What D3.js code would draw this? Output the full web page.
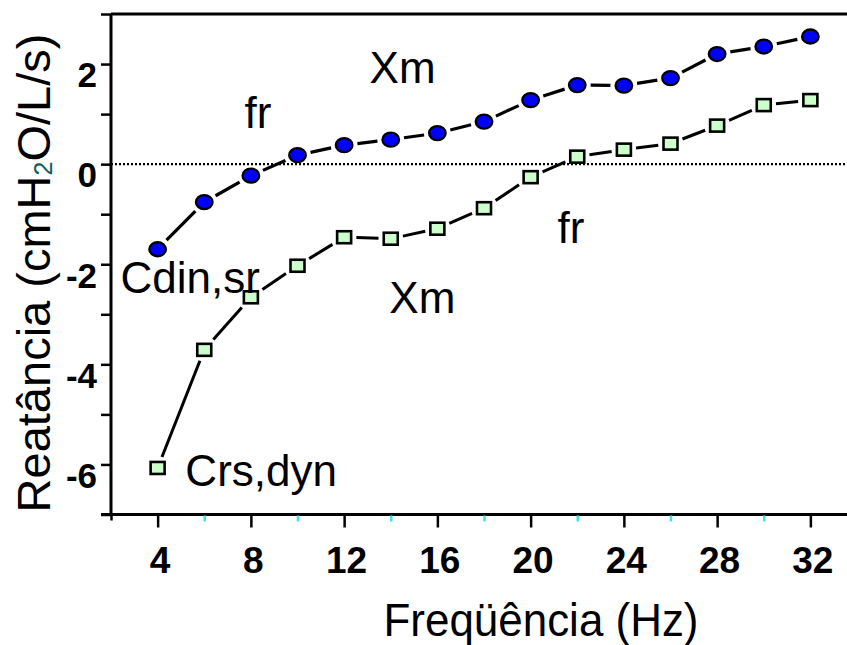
<!DOCTYPE html>
<html>
<head>
<meta charset="utf-8">
<script src="https://cdn.jsdelivr.net/npm/d3@7"></script>
<style>
  html, body { margin: 0; padding: 0; background: #fff; }
  svg { display: block; }
  text { font-family: "Liberation Sans", Arial, sans-serif; }
</style>
</head>
<body>
<svg id="chart" width="847" height="645"></svg>
<script>
// ---- data ----
const frequencies = [4, 6, 8, 10, 12, 14, 16, 18, 20, 22, 24, 26, 28, 30, 32];
const cdinSr = [-1.70, -0.76, -0.23, 0.18, 0.38, 0.49, 0.62, 0.85, 1.28, 1.58, 1.57, 1.72, 2.20, 2.35, 2.55];
const crsDyn = [-6.07, -3.71, -2.66, -2.03, -1.46, -1.49, -1.29, -0.88, -0.26, 0.15, 0.29, 0.41, 0.77, 1.18, 1.28];
const yTickValues = [-7, -6, -5, -4, -3, -2, -1, 0, 1, 2, 3];
const yLabelValues = [-6, -4, -2, 0, 2];
const xMajorTicks = [4, 8, 12, 16, 20, 24, 28, 32];
const xMinorTicks = [6, 10, 14, 18, 22, 26, 30];
const annotationText = ["Xm", "fr", "Cdin,sr", "Xm", "fr", "Crs,dyn"];
const annotationFreq = [13.09, 7.73, 2.41, 13.94, 21.15, 5.19];
const annotationReact = [1.63, 0.72, -2.57, -2.98, -1.58, -6.44];
const xTitle = "Freqüência (Hz)";

// ---- layout ----
const svg = d3.select("#chart");
const x = d3.scaleLinear().domain([2, 34]).range([111, 857]);
const y = d3.scaleLinear().domain([-7, 3]).range([514.5, 14]);
const rightEdge = 847;

// zero dotted line
svg.append("line")
  .attr("x1", x(2)).attr("x2", rightEdge)
  .attr("y1", y(0)).attr("y2", y(0))
  .attr("stroke", "#000").attr("stroke-width", 2.2)
  .attr("stroke-dasharray", "2,2");

// top border
svg.append("line")
  .attr("x1", x(2)).attr("x2", rightEdge)
  .attr("y1", y(3)).attr("y2", y(3))
  .attr("stroke", "#000").attr("stroke-width", 3);

// y axis
const yAxis = d3.axisLeft(y)
  .tickValues(yTickValues)
  .tickSize(10)
  .tickPadding(4)
  .tickFormat(d => yLabelValues.includes(d) ? d3.format("d")(d).replace("−", "-") : "");
const gy = svg.append("g").attr("transform", `translate(${x(2)},0)`).call(yAxis);
gy.select(".domain").attr("stroke-width", 3).attr("d", `M0,${y(3)}V${y(-7)}`);
gy.selectAll(".tick line").attr("stroke-width", 2.5);
gy.selectAll(".tick text")
  .attr("font-size", 35).attr("font-weight", "bold")
  .attr("font-family", "'Liberation Sans', Arial, sans-serif")
  .attr("dy", "0.65em").attr("fill", "#000");

// x axis line
svg.append("line")
  .attr("x1", x(2) - 10).attr("x2", rightEdge)
  .attr("y1", y(-7)).attr("y2", y(-7))
  .attr("stroke", "#000").attr("stroke-width", 3);

// x major ticks + labels
const xAxis = d3.axisBottom(x)
  .tickValues(xMajorTicks)
  .tickSize(13)
  .tickPadding(19)
  .tickFormat(d3.format("d"));
const gx = svg.append("g").attr("transform", `translate(0,${y(-7)})`).call(xAxis);
gx.select(".domain").remove();
gx.selectAll(".tick line").attr("stroke-width", 2.5);
gx.selectAll(".tick text")
  .attr("font-size", 37).attr("font-weight", "bold")
  .attr("font-family", "'Liberation Sans', Arial, sans-serif")
  .attr("dx", 2).attr("fill", "#000");

// x minor ticks (cyan)
const xMinorAxis = d3.axisBottom(x).tickValues(xMinorTicks).tickSize(6).tickFormat("");
const gxm = svg.append("g").attr("transform", `translate(0,${y(-7) + 1})`).call(xMinorAxis);
gxm.select(".domain").remove();
gxm.selectAll(".tick line").attr("stroke", "#3fe3f0").attr("stroke-width", 2.5);

// start tick at 2
const gx0 = svg.append("g").attr("transform", `translate(0,${y(-7)})`)
  .call(d3.axisBottom(x).tickValues([2]).tickSize(6).tickFormat(""));
gx0.select(".domain").remove();
gx0.selectAll(".tick line").attr("stroke-width", 2.5);

// ---- series ----
const EL_RX = 8.3, EL_RY = 7, SQ_W = 14, SQ_H = 12, GAP = 4;
function ellipseR(ux, uy) {
  const a = EL_RX + 1.1, b = EL_RY + 1.1;
  return (a * b) / Math.sqrt((b * ux) ** 2 + (a * uy) ** 2);
}
function squareR(ux, uy) {
  const hw = SQ_W / 2 + 1.25, hh = SQ_H / 2 + 1.25;
  const ax = Math.abs(ux) < 1e-6 ? Infinity : hw / Math.abs(ux);
  const ay = Math.abs(uy) < 1e-6 ? Infinity : hh / Math.abs(uy);
  return Math.min(ax, ay);
}
function segments(vals, rfn) {
  const pts = frequencies.map((f, i) => [x(f), y(vals[i])]);
  const segs = [];
  for (let i = 0; i < pts.length - 1; i++) {
    const [x0, y0] = pts[i], [x1, y1] = pts[i + 1];
    const dx = x1 - x0, dy = y1 - y0, len = Math.hypot(dx, dy);
    const ux = dx / len, uy = dy / len;
    const r = rfn(ux, uy) + GAP;
    if (len > 2 * r) segs.push([x0 + ux * r, y0 + uy * r, x1 - ux * r, y1 - uy * r]);
  }
  return segs;
}

function drawSegs(segs, width) {
  svg.append("g").selectAll("line").data(segs).join("line")
    .attr("x1", d => d[0]).attr("y1", d => d[1])
    .attr("x2", d => d[2]).attr("y2", d => d[3])
    .attr("stroke", "#000").attr("stroke-width", width);
}
drawSegs(segments(cdinSr, ellipseR), 3.2);
drawSegs(segments(crsDyn, squareR), 3);

svg.append("g").selectAll("ellipse").data(frequencies).join("ellipse")
  .attr("cx", (d) => x(d)).attr("cy", (d, i) => y(cdinSr[i]))
  .attr("rx", EL_RX).attr("ry", EL_RY)
  .attr("fill", "#0000ff").attr("stroke", "#000").attr("stroke-width", 2.3);

svg.append("g").selectAll("rect").data(frequencies).join("rect")
  .attr("x", (d) => x(d) - SQ_W / 2).attr("y", (d, i) => y(crsDyn[i]) - SQ_H / 2)
  .attr("width", SQ_W).attr("height", SQ_H)
  .attr("fill", "#ccffcc").attr("stroke", "#000").attr("stroke-width", 2.6);

// ---- annotations ----
svg.append("g").selectAll("text").data(annotationText).join("text")
  .attr("x", (d, i) => x(annotationFreq[i]))
  .attr("y", (d, i) => y(annotationReact[i]))
  .attr("font-size", 44).attr("fill", "#000")
  .text(d => d);

// ---- axis titles ----
svg.append("text")
  .attr("x", 541).attr("y", 636)
  .attr("text-anchor", "middle").attr("font-size", 46).attr("fill", "#000")
  .attr("textLength", 315).attr("lengthAdjust", "spacingAndGlyphs")
  .text(xTitle);

const yt = svg.append("text")
  .attr("transform", "translate(50,273) rotate(-90)")
  .attr("text-anchor", "middle").attr("font-size", 47).attr("fill", "#000");
yt.append("tspan").text("Reatância (cmH");
yt.append("tspan").attr("font-size", 25).attr("fill", "#0e5c5c").attr("dy", 2).text("2");
yt.append("tspan").attr("dy", -2).text("O/L/s)");
</script>
</body>
</html>
